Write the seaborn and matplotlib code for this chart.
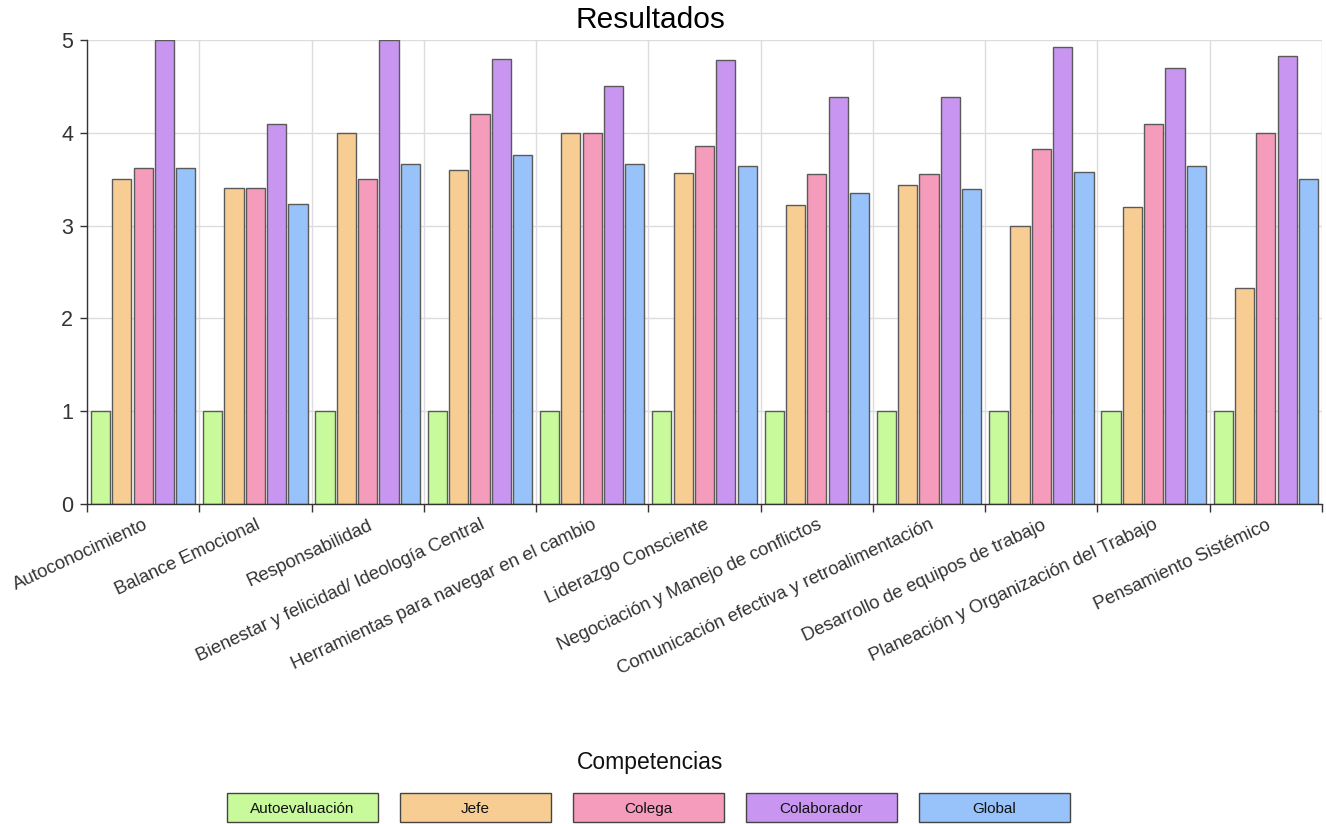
import numpy as np
import pandas as pd
import seaborn as sns
import matplotlib.pyplot as plt
from matplotlib.patches import Rectangle

# Competencias evaluadas
categorias = [
    "Autoconocimiento",
    "Balance Emocional",
    "Responsabilidad",
    "Bienestar y felicidad/ Ideología Central",
    "Herramientas para navegar en el cambio",
    "Liderazgo Consciente",
    "Negociación y Manejo de conflictos",
    "Comunicación efectiva y retroalimentación",
    "Desarrollo de equipos de trabajo",
    "Planeación y Organización del Trabajo",
    "Pensamiento Sistémico",
]

series = ["Autoevaluación", "Jefe", "Colega", "Colaborador", "Global"]

autoevaluacion = [1, 1, 1, 1, 1, 1, 1, 1, 1, 1, 1]
jefe = [3.5, 3.4, 4.0, 3.6, 4.0, 3.57, 3.22, 3.44, 3.0, 3.2, 2.33]
colega = [3.62, 3.4, 3.5, 4.2, 4.0, 3.86, 3.56, 3.56, 3.83, 4.1, 4.0]
colaborador = [5.0, 4.1, 5.0, 4.8, 4.5, 4.78, 4.39, 4.39, 4.92, 4.7, 4.83]
global_ = [3.62, 3.23, 3.66, 3.76, 3.66, 3.64, 3.35, 3.39, 3.58, 3.64, 3.5]

colores = ["#C8FA9C", "#F7CD93", "#F59BBB", "#C896F0", "#98C2FA"]

valores = [autoevaluacion, jefe, colega, colaborador, global_]
df = pd.DataFrame(
    [(c, s, v) for s, vals in zip(series, valores) for c, v in zip(categorias, vals)],
    columns=["Competencia", "Serie", "Valor"],
)

sns.set_theme(style="white")
plt.rcParams["font.family"] = ["Liberation Sans", "DejaVu Sans"]

W, H = 1326, 824
fig = plt.figure(figsize=(W / 100, H / 100), dpi=100)
ax = fig.add_axes([87 / W, 320 / H, 1235 / W, 464 / H])

sns.barplot(
    data=df, x="Competencia", y="Valor", hue="Serie",
    order=categorias, hue_order=series, palette=colores,
    width=0.95, gap=0.1, saturation=1, errorbar=None,
    edgecolor="#5a5a5a", linewidth=1, legend=False, ax=ax,
)

ax.set_xlim(-0.5, len(categorias) - 0.5)
ax.set_ylim(0, 5)
ax.set_xlabel("")
ax.set_ylabel("")

# Gridlines: horizontal at integer values, vertical between groups
ax.set_yticks(range(6))
ax.set_xticks(np.arange(-0.5, len(categorias), 1), minor=True)
ax.yaxis.grid(True, color="#dcdcdc", linewidth=1)
ax.xaxis.grid(True, which="minor", color="#dcdcdc", linewidth=1)
ax.xaxis.grid(False, which="major")
ax.set_axisbelow(True)

for side in ["top", "right"]:
    ax.spines[side].set_visible(False)
for side in ["left", "bottom"]:
    ax.spines[side].set_color("#333333")
    ax.spines[side].set_linewidth(1)

ax.tick_params(axis="y", left=True, length=5, width=1, color="#333333",
               labelsize=15.5, labelcolor="#333333", pad=5)
ax.tick_params(axis="x", which="major", bottom=False, length=0, pad=9,
               labelsize=13.3, labelcolor="#333333")
ax.tick_params(axis="x", which="minor", bottom=True, length=6, width=1,
               color="#333333", direction="out")
plt.setp(ax.get_xticklabels(), rotation=25, ha="right", va="top",
         rotation_mode="anchor")

fig.text(650 / W, 1 - 20 / H, "Resultados", ha="center", va="center",
         fontsize=21.5, color="black")

# Leyenda
fig.text(650 / W, 1 - 762 / H, "Competencias", ha="center", va="center",
         fontsize=16.5, color="#111111")
box_w, box_h, step = 151, 29, 173
x0 = 227
for i, (s, col) in enumerate(zip(series, colores)):
    x = x0 + i * step
    fig.add_artist(Rectangle((x / W, 2 / H), box_w / W, box_h / H,
                             transform=fig.transFigure, facecolor=col,
                             edgecolor="#444444", linewidth=1))
    fig.text((x + box_w / 2) / W, (2 + box_h / 2) / H, s, ha="center",
             va="center_baseline", fontsize=11, color="#111111")

fig.savefig("out.png", dpi=100)
